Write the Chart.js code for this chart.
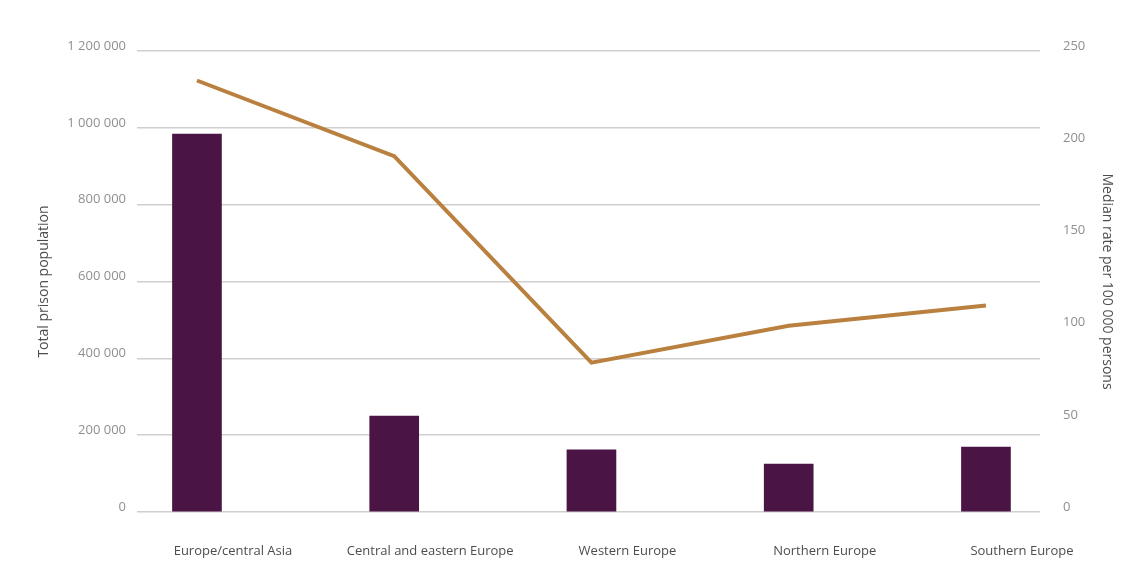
<!DOCTYPE html>
<html>
<head>
<meta charset="utf-8">
<title>Prison population in Europe</title>
<script src="https://cdn.jsdelivr.net/npm/chart.js@4.4.1/dist/chart.umd.min.js"></script>
<style>
  html, body { margin: 0; padding: 0; background: #ffffff; }
  #wrap { width: 1123px; height: 578px; position: relative; }
</style>
</head>
<body>
<div id="wrap"><canvas id="chart"></canvas></div>
<script>
// regions on the x axis
const regions = ['Europe/central Asia', 'Central and eastern Europe', 'Western Europe', 'Northern Europe', 'Southern Europe'];
// total prison population (bars, left axis)
const totalPopulation = [984000, 250000, 162000, 125000, 169000];
// median rate per 100 000 persons (line, right axis)
const medianRate = [234, 193, 81, 101, 112];
// tick values
const leftTicks = [0, 200000, 400000, 600000, 800000, 1000000, 1200000];
const rightTicks = [0, 50, 100, 150, 200, 250];

const spaced = v => v.toString().replace(/\B(?=(\d{3})+(?!\d))/g, ' ');

const tickFont = { family: '"Open Sans", "Noto Sans", sans-serif', size: 13 };
const titleFont = { family: '"Open Sans", "Noto Sans", sans-serif', size: 14 };

const ctx = document.getElementById('chart').getContext('2d');
new Chart(ctx, {
  data: {
    datasets: [
      {
        type: 'line',
        label: 'Median rate per 100 000 persons',
        data: medianRate.map((v, i) => ({ x: i, y: v })),
        xAxisID: 'x',
        yAxisID: 'y1',
        borderColor: '#b9803f',
        borderWidth: 4,
        pointRadius: 0,
        tension: 0,
        order: 0,
      },
      {
        type: 'bar',
        label: 'Total prison population',
        data: totalPopulation.map((v, i) => ({ x: i, y: v })),
        xAxisID: 'x',
        yAxisID: 'y',
        backgroundColor: '#4a1545',
        barThickness: 49,
        order: 1,
      },
    ],
  },
  options: {
    responsive: true,
    maintainAspectRatio: false,
    animation: false,
    layout: { padding: { top: 51, left: 0, right: 0, bottom: 0 } },
    plugins: {
      legend: { display: false },
      tooltip: { enabled: false },
    },
    scales: {
      x: {
        type: 'linear',
        offset: false,
        min: -0.304,
        max: 4.274,
        afterBuildTicks: axis => {
          axis.ticks = regions.map((r, i) => ({ value: i }));
        },
        afterFit: axis => { axis.height = 66; },
        grid: { display: false, drawTicks: false, offset: false },
        border: { display: false },
        ticks: {
          callback: v => regions[v],
          color: '#4d4d4d',
          font: tickFont,
          padding: 31,
          labelOffset: 36,
          maxRotation: 0,
          autoSkip: false,
        },
      },
      y: {
        position: 'left',
        min: 0,
        max: 1200000,
        afterBuildTicks: axis => {
          axis.ticks = leftTicks.map(v => ({ value: v }));
        },
        afterFit: axis => { axis.width = 137; },
        grid: { color: '#d0d0d0', lineWidth: 1.5, drawTicks: false },
        border: { display: false },
        ticks: {
          callback: v => spaced(v),
          color: '#8f8f8f',
          font: tickFont,
          padding: 11,
          labelOffset: -5,
        },
        title: {
          display: true,
          text: 'Total prison population',
          color: '#4d4d4d',
          font: titleFont,
          padding: { top: 36, bottom: 0 },
        },
      },
      y1: {
        position: 'right',
        min: 0,
        max: 250,
        afterBuildTicks: axis => {
          axis.ticks = rightTicks.map(v => ({ value: v }));
        },
        afterFit: axis => { axis.width = 83; },
        grid: { display: false, drawTicks: false },
        border: { display: false },
        ticks: {
          color: '#8f8f8f',
          font: tickFont,
          padding: 23,
          labelOffset: -5,
        },
        title: {
          display: true,
          text: 'Median rate per 100 000 persons',
          color: '#4d4d4d',
          font: titleFont,
          padding: { top: 8, bottom: 0 },
        },
      },
    },
  },
});
</script>
</body>
</html>
